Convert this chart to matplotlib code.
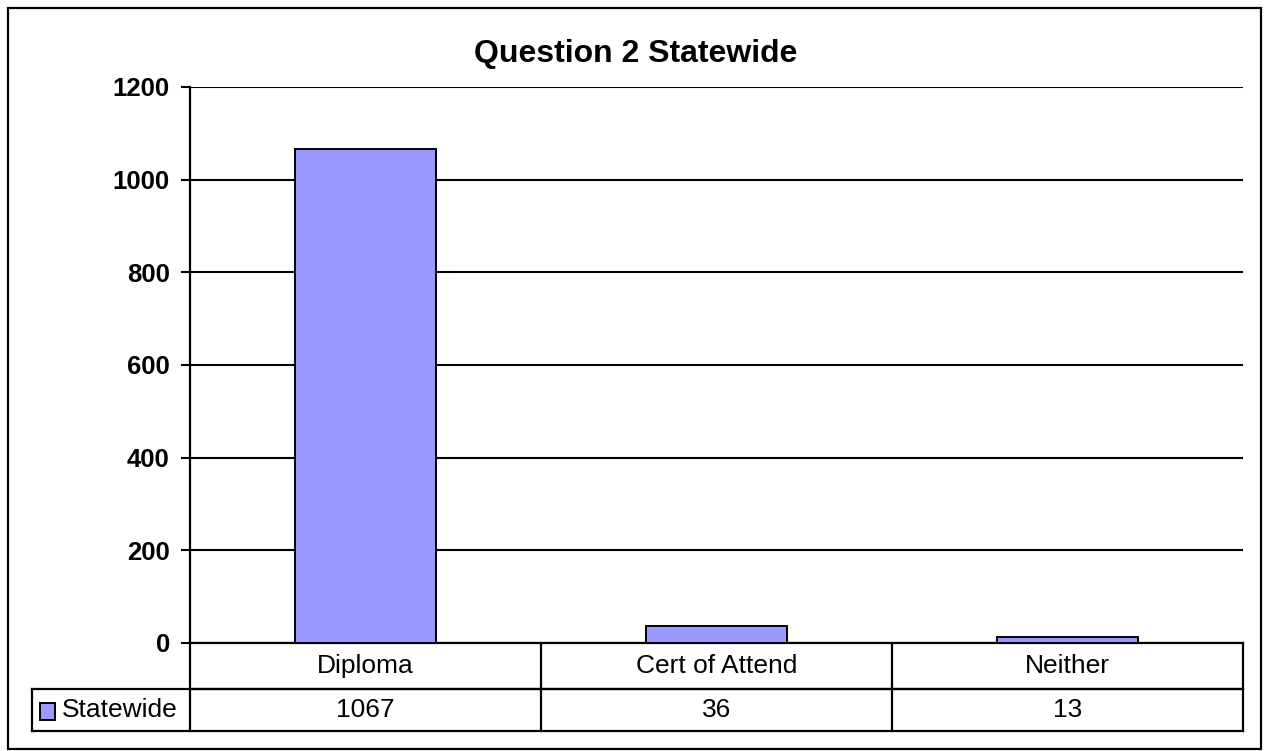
import matplotlib
matplotlib.use("Agg")
import matplotlib.pyplot as plt
from matplotlib.patches import Rectangle
import matplotlib.transforms as mtransforms

plt.rcParams['font.family'] = ['Liberation Sans', 'DejaVu Sans']

categories = ["Diploma", "Cert of Attend", "Neither"]
values = [1067, 36, 13]
series_name = "Statewide"
yticks = [0, 200, 400, 600, 800, 1000, 1200]

bar_color = "#9999FF"
W, H = 1264, 751

fig = plt.figure(figsize=(W / 100, H / 100), dpi=100)

# outer chart border
fig.patches.append(Rectangle((8 / W, 1 - 749 / H), (1261 - 8) / W, (749 - 8) / H,
                             transform=fig.transFigure, fill=False,
                             edgecolor="black", linewidth=1.6))

ax = fig.add_axes([190 / W, (H - 643) / H, (1243 - 190) / W, (643 - 87) / H])
x = list(range(len(categories)))
ax.bar(x, values, width=0.40, color=bar_color, edgecolor="black", linewidth=1.4, zorder=3)

ax.set_xlim(-0.5, len(categories) - 0.5)
ax.set_ylim(0, 1200)
ax.set_yticks(yticks)
ax.set_yticklabels([str(t) for t in yticks], fontsize=18.5, fontweight="bold")
ax.tick_params(axis="y", direction="out", length=6.5, width=1.5, pad=8)
ax.set_xticks([])
ax.yaxis.grid(True, color="black", linewidth=1.5, zorder=0)
ax.set_axisbelow(True)
for s in ["top", "right"]:
    ax.spines[s].set_visible(False)
ax.spines["left"].set_linewidth(1.6)
ax.spines["bottom"].set_linewidth(1.6)

fig.text(636 / W, (H - 62) / H, "Question 2 Statewide", fontsize=23,
         fontweight="bold", ha="center", va="baseline")

# data table under the plot
trans = mtransforms.blended_transform_factory(ax.transData, ax.transAxes)
r1 = (643 - 689) / (643 - 87)
r2 = (643 - 731) / (643 - 87)
lx = -0.5 - (190 - 32) / (1053 / 3)
lw = 1.6
x0, x1 = -0.5, len(categories) - 0.5
ax.plot([x0, x1], [r1, r1], color="black", lw=lw, transform=trans, clip_on=False)
ax.plot([lx, x1], [r1, r1], color="black", lw=lw, transform=trans, clip_on=False)
ax.plot([lx, x1], [r2, r2], color="black", lw=lw, transform=trans, clip_on=False)
ax.plot([lx, lx], [r1, r2], color="black", lw=lw, transform=trans, clip_on=False)
for b in range(len(categories) + 1):
    ax.plot([b - 0.5, b - 0.5], [0, r2], color="black", lw=lw, transform=trans, clip_on=False)

for i, (c, v) in enumerate(zip(categories, values)):
    ax.text(i, r1 / 2, c, ha="center", va="center", fontsize=19, transform=trans)
    ax.text(i, (r1 + r2) / 2, str(v), ha="center", va="center", fontsize=19, transform=trans)

# legend key in table
key = Rectangle((40 / W, (H - 720) / H), 15 / W, 17 / H, transform=fig.transFigure,
                facecolor=bar_color, edgecolor="black", linewidth=1.4)
fig.patches.append(key)
fig.text(62 / W, (H - 710) / H, series_name, fontsize=19, va="center", ha="left")

fig.savefig("out.png", dpi=100)
